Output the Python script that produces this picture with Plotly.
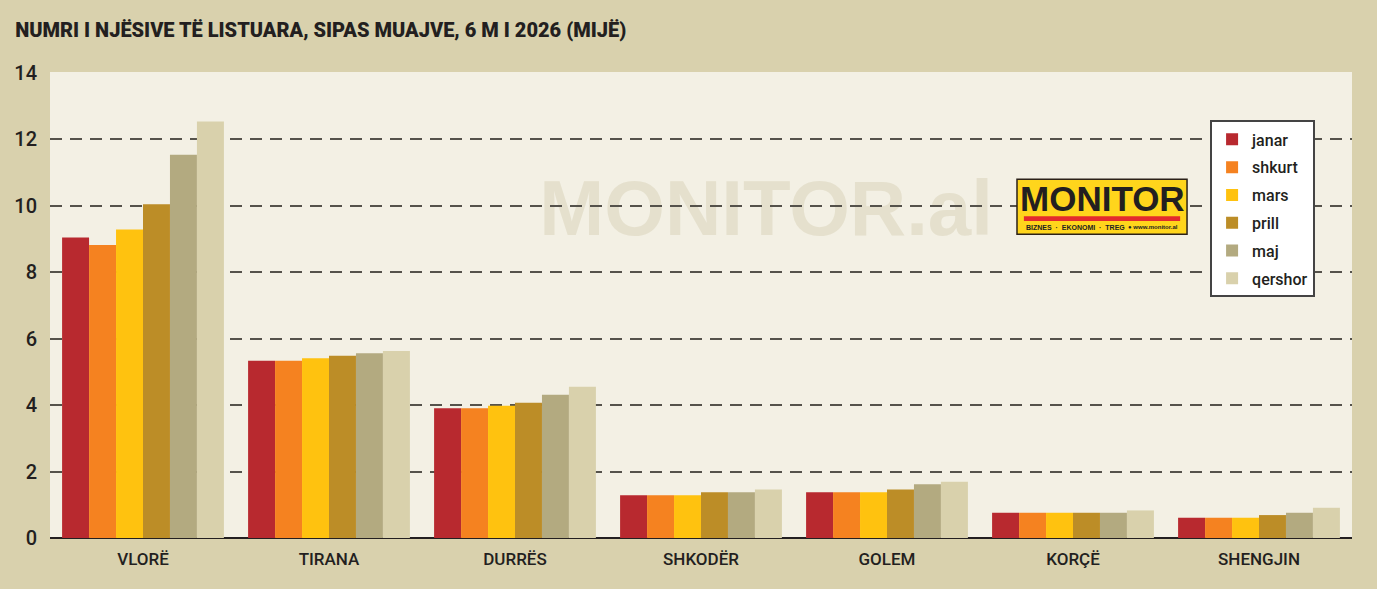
import plotly.graph_objects as go

# te dhenat (mije njesi)
cities = ['VLORË', 'TIRANA', 'DURRËS', 'SHKODËR', 'GOLEM', 'KORÇË', 'SHENGJIN']
months = ['janar', 'shkurt', 'mars', 'prill', 'maj', 'qershor']

janar = [9.05, 5.34, 3.91, 1.29, 1.38, 0.76, 0.61]
shkurt = [8.82, 5.34, 3.91, 1.29, 1.38, 0.76, 0.61]
mars = [9.29, 5.41, 3.98, 1.29, 1.38, 0.76, 0.61]
prill = [10.05, 5.49, 4.07, 1.38, 1.46, 0.76, 0.69]
maj = [11.54, 5.56, 4.31, 1.38, 1.62, 0.76, 0.76]
qershor = [12.54, 5.63, 4.55, 1.46, 1.69, 0.83, 0.91]

y_ticks = [0, 2, 4, 6, 8, 10, 12, 14]

series = [janar, shkurt, mars, prill, maj, qershor]
colors = ['#b8292f', '#f58220', '#ffc20f', '#bc8d27', '#b3aa80', '#d9d1ac']

NARROW = 'Roboto, Liberation Sans, sans-serif'
BOLD = 'Liberation Sans, Arial, sans-serif'

fig = go.Figure()
for name, vals, col in zip(months, series, colors):
    fig.add_trace(go.Bar(x=cities, y=vals, name=name, legendgroup=name,
                         marker=dict(color=col, line=dict(width=0))))

fig.update_layout(
    width=1377, height=589,
    margin=dict(l=50, r=25, t=72, b=51),
    paper_bgcolor='#d9d1ad',
    plot_bgcolor='#f3f0e4',
    barmode='group', bargap=0.13, bargroupgap=0,
    title=dict(text='NUMRI I NJËSIVE TË LISTUARA, SIPAS MUAJVE, 6 M I 2026 (MIJË)',
               xref='container', x=0.011, xanchor='left',
               yref='container', y=0.949, yanchor='middle',
               font=dict(family=NARROW, size=20, color='#231f20', weight=900)),
    legend=dict(x=0.891, y=0.896, xanchor='left', yanchor='top',
                bgcolor='#ffffff', bordercolor='#444444', borderwidth=2,
                font=dict(family=NARROW, size=16, color='#231f20', weight=500),
                traceorder='grouped', tracegroupgap=4),
    xaxis=dict(showgrid=False, ticks='', showline=False,
               tickfont=dict(family=NARROW, size=17, color='#231f20', weight=500),
               ticklabelstandoff=9),
    yaxis=dict(range=[0, 14.03], tickvals=y_ticks, ticks='',
               showgrid=True, gridcolor='#55524b', gridwidth=1.6, griddash='12px,8px',
               zeroline=True, zerolinecolor='#231f20', zerolinewidth=2,
               tickfont=dict(family=NARROW, size=20, color='#231f20', weight=500),
               ticklabelstandoff=12),
)

# watermark
fig.add_shape(type='rect', xref='paper', yref='paper', x0=0.35, x1=0.75, y0=0.653, y1=0.793,
              line=dict(width=0), fillcolor='rgba(0,0,0,0)', layer='below',
              label=dict(text='<b>MONITOR.al</b>', textposition='middle center',
                         font=dict(family=BOLD, size=78, color='#e5e0cd')))

# logo MONITOR
fig.add_shape(type='rect', xref='paper', yref='paper', x0=0.7427, x1=0.8733, y0=0.652, y1=0.770,
              fillcolor='#ffd51c', line=dict(color='#2b2118', width=1.5), layer='above')
fig.add_shape(type='rect', xref='paper', yref='paper', x0=0.748, x1=0.868, y0=0.680, y1=0.6905,
              fillcolor='#e42a2c', line=dict(width=0), layer='above')
fig.add_annotation(text='<b>MONITOR</b>', xref='paper', yref='paper', x=0.808, y=0.728,
                   xanchor='center', yanchor='middle', showarrow=False,
                   font=dict(family=BOLD, size=35, color='#231f20'))
fig.add_annotation(text='<b>BIZNES  ·  EKONOMI  ·  TREG</b>', xref='paper', yref='paper',
                   x=0.748, y=0.667, xanchor='left', yanchor='middle', showarrow=False,
                   font=dict(family=BOLD, size=7, color='#231f20'))
fig.add_annotation(text='<b>● www.monitor.al</b>', xref='paper', yref='paper',
                   x=0.868, y=0.667, xanchor='right', yanchor='middle', showarrow=False,
                   font=dict(family=BOLD, size=6, color='#231f20'))

fig.write_html("out.html", config={'displayModeBar': False},
               post_script="document.body.style.margin='0';")
